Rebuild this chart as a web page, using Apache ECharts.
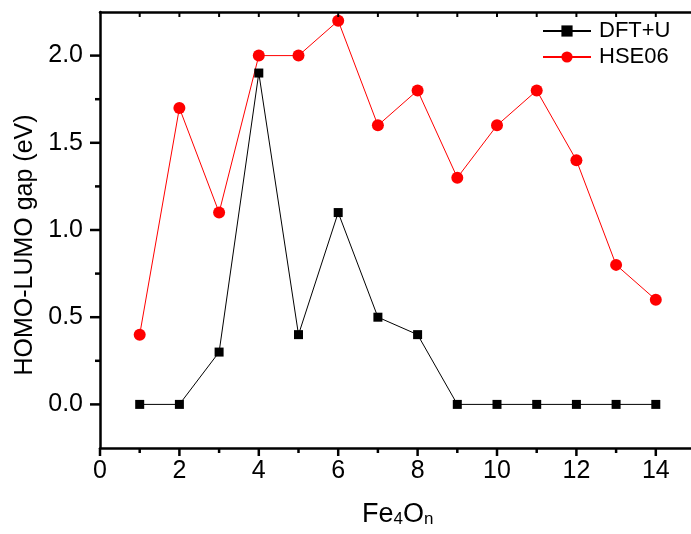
<!DOCTYPE html>
<html>
<head>
<meta charset="utf-8">
<script src="https://cdn.jsdelivr.net/npm/echarts@6/dist/echarts.min.js"></script>
<style>
html,body{margin:0;padding:0;background:#fff;}
#c{width:691px;height:534px;}
</style>
</head>
<body>
<div id="c"></div>
<script>
// ---- data ----
const nValues = [1, 2, 3, 4, 5, 6, 7, 8, 9, 10, 11, 12, 13, 14];
const dftU = [0, 0, 0.3, 1.9, 0.4, 1.1, 0.5, 0.4, 0, 0, 0, 0, 0, 0];
const hse06 = [0.4, 1.7, 1.1, 2.0, 2.0, 2.2, 1.6, 1.8, 1.3, 1.6, 1.8, 1.4, 0.8, 0.6];
const seriesNames = ['DFT+U', 'HSE06'];
const xRange = [0, 15];
const yRange = [-0.25, 2.25];
const xMajorTicks = [0, 2, 4, 6, 8, 10, 12, 14];
const xMinorTicks = [1, 3, 5, 7, 9, 11, 13];
const xTopTicks = [1, 2, 3, 4, 5, 6, 7, 8, 9, 10, 11, 12, 13, 14];
const yMajorTicks = [0, 0.5, 1.0, 1.5, 2.0];
const yMinorTicks = [0.25, 0.75, 1.25, 1.75];

// ---- layout ----
const W = 691, H = 534;
const L = 100, R = 695.5, T = 12, B = 448;
const FONT = "'Liberation Sans', Arial, Helvetica, sans-serif";
const black = '#000';
const near = (a, b) => Math.abs(a - b) < 1e-6;

const chart = echarts.init(document.getElementById('c'));

function tickSeries(name, values, side, len, width) {
  return {
    name: name, type: 'custom', xAxisIndex: 0, yAxisIndex: 0, silent: true, clip: false, z: 5,
    data: values.map(v => [v, 0]),
    renderItem: (params, api) => {
      const v = api.value(0);
      let p, shape;
      if (side === 'bottom') { p = api.coord([v, yRange[0]]); shape = {x1: p[0], y1: p[1], x2: p[0], y2: p[1] + len}; }
      else if (side === 'top') { p = api.coord([v, yRange[1]]); shape = {x1: p[0], y1: p[1], x2: p[0], y2: p[1] + len}; }
      else { p = api.coord([xRange[0], v]); shape = {x1: p[0], y1: p[1], x2: p[0] - len, y2: p[1]}; }
      return {type: 'line', shape, style: {stroke: black, lineWidth: width}};
    }
  };
}

chart.setOption({
  backgroundColor: '#fff',
  animation: false,
  grid: {left: L, right: W - R, top: T, bottom: H - B, outerBoundsMode: 'none'},
  legend: {
    top: 20, left: 542, orient: 'vertical', itemGap: 4, padding: 0,
    itemWidth: 48, itemHeight: 14,
    textStyle: {fontFamily: FONT, fontSize: 22, color: black, padding: [0, 0, 0, 3]},
    data: seriesNames
  },
  xAxis: [
    {
      type: 'value', position: 'bottom', min: xRange[0], max: xRange[1], interval: 1,
      axisLine: {show: true, onZero: false, lineStyle: {color: black, width: 2.5}},
      axisTick: {show: false}, splitLine: {show: false},
      axisLabel: {fontFamily: FONT, fontSize: 25, color: black, margin: 11,
        formatter: v => xMajorTicks.some(t => near(t, v)) ? String(v) : ''},
      name: 'Fe{sub|4}O{sub|n}', nameLocation: 'middle', nameGap: 53,
      nameTextStyle: {fontFamily: FONT, fontSize: 27, color: black,
        rich: {sub: {fontFamily: FONT, fontSize: 17, color: black, padding: [10, 0, 0, 0]}}}
    },
    {
      type: 'value', position: 'top', min: xRange[0], max: xRange[1],
      axisLine: {show: true, onZero: false, lineStyle: {color: black, width: 2.5}},
      axisTick: {show: false}, splitLine: {show: false}, axisLabel: {show: false}
    }
  ],
  yAxis: {
    type: 'value', position: 'left', min: yRange[0], max: yRange[1], interval: 0.25,
    axisLine: {show: true, onZero: false, lineStyle: {color: black, width: 2.5}},
    axisTick: {show: false}, splitLine: {show: false},
    axisLabel: {fontFamily: FONT, fontSize: 25, color: black, margin: 17,
      formatter: v => yMajorTicks.some(t => near(t, v)) ? v.toFixed(1) : ''},
    name: 'HOMO-LUMO gap (eV)', nameLocation: 'middle', nameGap: 62, nameRotate: 90,
    nameTextStyle: {fontFamily: FONT, fontSize: 25, color: black, padding: [0, 30, 0, 0]}
  },
  series: [
    {
      name: seriesNames[0], type: 'line', xAxisIndex: 0, yAxisIndex: 0,
      data: nValues.map((n, i) => [n, dftU[i]]),
      symbol: 'rect', symbolSize: 9,
      itemStyle: {color: black},
      lineStyle: {color: black, width: 1}
    },
    {
      name: seriesNames[1], type: 'line', xAxisIndex: 0, yAxisIndex: 0,
      data: nValues.map((n, i) => [n, hse06[i]]),
      symbol: 'circle', symbolSize: 12,
      itemStyle: {color: '#ff0000'},
      lineStyle: {color: '#ff0000', width: 1}
    },
    tickSeries('xMajorTicks', xMajorTicks, 'bottom', 8, 2.5),
    tickSeries('xMinorTicks', xMinorTicks, 'bottom', 5, 2.5),
    tickSeries('xTopTicks', xTopTicks, 'top', 5, 2),
    tickSeries('yMajorTicks', yMajorTicks, 'left', 10, 2.5),
    tickSeries('yMinorTicks', yMinorTicks, 'left', 5, 2.5)
  ]
});
</script>
</body>
</html>
